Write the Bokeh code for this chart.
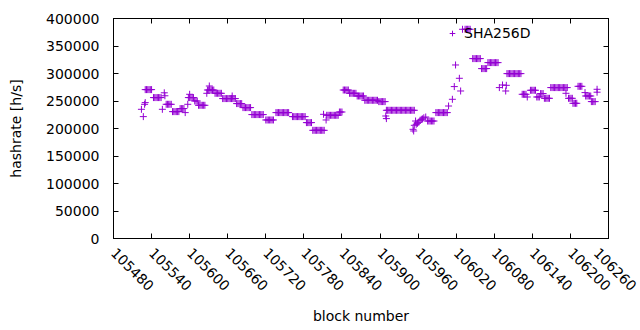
import math
from bokeh.plotting import figure
from bokeh.models import (ColumnDataSource, FixedTicker, LinearAxis, Legend,
                          LegendItem, BasicTickFormatter, Range1d, CustomJSTickFormatter)
from bokeh.embed import file_html
from bokeh.resources import INLINE

# ---- tick labels ----
x_ticks = [105480, 105540, 105600, 105660, 105720, 105780, 105840,
           105900, 105960, 106020, 106080, 106140, 106200, 106260]
y_ticks = [0, 50000, 100000, 150000, 200000, 250000, 300000, 350000, 400000]
series_name = "SHA256D"

# ---- data (block number, hashrate) ----
block = [
    105524, 105527, 105529, 105530,
    105530, 105532, 105534, 105536, 105538, 105540,
    105543, 105545, 105547, 105549, 105551, 105553, 105555,
    105557, 105560, 105561,
    105563, 105565, 105567, 105569, 105571,
    105573, 105575, 105577, 105579, 105581, 105583,
    105585, 105587, 105589, 105591,
    105593, 105597,
    105598, 105600, 105602, 105604, 105606, 105600,
    105608, 105610, 105612,
    105614, 105616, 105618, 105620, 105622, 105624,
    105627, 105631,
    105628, 105630, 105632, 105634, 105636, 105638,
    105640, 105642, 105644, 105646, 105648, 105650,
    105652, 105654, 105656, 105658, 105660, 105662, 105664, 105666, 105668, 105670, 105672, 105667,
    105674, 105676, 105678, 105680, 105682,
    105684, 105686, 105688, 105690, 105692, 105694, 105696,
    105698, 105700, 105702, 105704, 105706, 105708, 105710, 105712, 105714, 105716,
    105720, 105722, 105724, 105726, 105728, 105730, 105732,
    105736, 105738, 105740, 105742, 105744, 105746, 105748, 105750, 105752, 105754, 105756,
    105762, 105764, 105766, 105768, 105770, 105772, 105774, 105776, 105778, 105780, 105782,
    105784, 105786, 105788, 105790, 105792,
    105794, 105796, 105798, 105800, 105802, 105804, 105806, 105808, 105810, 105812,
    105811, 105815,
    105816, 105818, 105820, 105822, 105824, 105826, 105828, 105830, 105832, 105834,
    105836, 105838, 105840,
    105842, 105844, 105846, 105848, 105850,
    105852, 105854, 105856, 105858, 105860, 105862,
    105864, 105866, 105868, 105870, 105872, 105874,
    105876, 105878, 105880, 105882, 105884, 105886, 105888, 105890, 105892, 105894, 105896,
    105898, 105900, 105902, 105904, 105906, 105908,
    105909, 105910,
    105910, 105912, 105914, 105916, 105918, 105920, 105922, 105924, 105926, 105928, 105930, 105932,
    105934, 105936, 105938, 105940, 105942, 105944, 105946, 105948, 105950, 105952, 105954,
    105952, 105953, 105954, 105956,
    105957, 105959, 105961, 105963, 105965, 105967, 105969, 105972,
    105975, 105977, 105979, 105981, 105983, 105985,
    105988, 105990, 105992, 105994, 105996, 105998, 106000, 106002, 106004, 106006,
    106008, 106014, 106017, 106019, 106025, 106027,
    106030, 106034, 106036, 106038, 106040, 106042,
    106046, 106048, 106050, 106052, 106054, 106056, 106058,
    106060, 106062, 106064, 106066, 106068,
    106070, 106072, 106074, 106076, 106078, 106080, 106082, 106084, 106086,
    106088, 106093, 106098, 106099,
    106100, 106102, 106104, 106106, 106108, 106110, 106112, 106114, 106116, 106118, 106120, 106122,
    106124, 106126, 106128, 106130, 106132,
    106137, 106139, 106141, 106143, 106145,
    106147, 106149, 106151,
    106153, 106155, 106157,
    106159, 106161, 106163, 106165, 106167,
    106169, 106171, 106173, 106175, 106177, 106179, 106181, 106183, 106185, 106187, 106189, 106191,
    106193, 106195,
    106193,
    106197, 106199, 106201, 106203,
    106204, 106206, 106208, 106210,
    106212, 106214, 106216, 106218,
    106223,
    106224, 106226, 106228, 106230, 106232,
    106233, 106235, 106237, 106239,
    106242, 106242,
]
hashrate = [
    234900, 221600, 244000, 247100,
    270700, 270700, 270700, 270700, 270700, 270700,
    256200, 256200, 256200, 256200, 256200, 256200, 256200,
    234900, 264900, 259500,
    244000, 244000, 244000, 244000, 244000,
    230700, 230700, 230700, 230700, 230700, 230700,
    236200, 236200, 236200, 236200,
    228900, 244000,
    256200, 256200, 256200, 256200, 256200, 262200,
    250000, 250000, 250000,
    242200, 242200, 242200, 242200, 242200, 242200,
    264000, 277300,
    270000, 270000, 270000, 270000, 270000, 270000,
    264000, 264000, 264000, 264000, 264000, 264000,
    254400, 254400, 254400, 254400, 254400, 254400, 254400, 254400, 254400, 254400, 254400, 259100,
    245300, 245300, 245300, 245300, 245300,
    238000, 238000, 238000, 238000, 238000, 238000, 238000,
    225300, 225300, 225300, 225300, 225300, 225300, 225300, 225300, 225300, 225300,
    215500, 215500, 215500, 215500, 215500, 215500, 215500,
    228900, 228900, 228900, 228900, 228900, 228900, 228900, 228900, 228900, 228900, 228900,
    221600, 221600, 221600, 221600, 221600, 221600, 221600, 221600, 221600, 221600, 221600,
    210700, 210700, 210700, 210700, 210700,
    196700, 196700, 196700, 196700, 196700, 196700, 196700, 196700, 196700, 196700,
    225800, 215500,
    224000, 224000, 224000, 224000, 224000, 224000, 224000, 224000, 224000, 224000,
    230000, 230000, 230000,
    270000, 270000, 270000, 270000, 270000,
    264000, 264000, 264000, 264000, 264000, 264000,
    259100, 259100, 259100, 259100, 259100, 259100,
    251300, 251300, 251300, 251300, 251300, 251300, 251300, 251300, 251300, 251300, 251300,
    248900, 248900, 248900, 248900, 248900, 248900,
    222700, 218000,
    233100, 233100, 233100, 233100, 233100, 233100, 233100, 233100, 233100, 233100, 233100, 233100,
    233100, 233100, 233100, 233100, 233100, 233100, 233100, 233100, 233100, 233100, 233100,
    198500, 195500, 205800, 213600,
    207600, 209500, 211300, 214900, 216700, 217500, 219500, 220900,
    213600, 213600, 213600, 213600, 213600, 213600,
    228900, 228900, 228900, 228900, 228900, 228900, 228900, 228900, 228900, 228900,
    240900, 253100, 276200, 315500, 291300, 268200,
    380400, 380400, 380400, 380400, 380400, 380400,
    327100, 327100, 327100, 327100, 327100, 327100, 327100,
    308900, 308900, 308900, 308900, 308900,
    319800, 319800, 319800, 319800, 319800, 319800, 319800, 319800, 319800,
    274400, 279100, 268200, 278500,
    299800, 299800, 299800, 299800, 299800, 299800, 299800, 299800, 299800, 299800, 299800, 299800,
    262200, 262200, 262200, 262200, 257300,
    269500, 269500, 269500, 269500, 269500,
    257300, 257300, 257300,
    263500, 263500, 263500,
    254900, 254900, 254900, 254900, 254900,
    274400, 274400, 274400, 274400, 274400, 274400, 274400, 274400, 274400, 274400, 274400, 274400,
    274400, 274400,
    264000,
    254900, 254900, 254900, 254900,
    245800, 245800, 245800, 245800,
    276700, 276700, 276700, 276700,
    265300,
    259100, 259100, 259100, 259100, 259100,
    248900, 248900, 248900, 248900,
    271300, 266000,
]

PURPLE = "#9400D3"
FONT = "DejaVu Sans"
FS = "14px"

src = ColumnDataSource(dict(block=block, hashrate=hashrate))

p = figure(frame_width=495, frame_height=220,
           x_range=Range1d(x_ticks[0], x_ticks[-1]),
           y_range=Range1d(y_ticks[0], y_ticks[-1]),
           output_backend="svg", toolbar_location=None,
           min_border_left=113, min_border_right=29,
           min_border_top=18, min_border_bottom=86,
           background_fill_color="white", border_fill_color="white")

r = p.scatter("block", "hashrate", source=src, marker="cross", size=7,
              line_color=PURPLE, line_width=1)

p.grid.visible = False
p.outline_line_color = "black"
p.outline_line_alpha = 1
p.outline_line_width = 1

xa = p.xaxis[0]
xa.ticker = FixedTicker(ticks=x_ticks)
xa.formatter = BasicTickFormatter(use_scientific=False)
xa.major_label_orientation = -math.pi / 4
xa.axis_label = "block number"
xa.major_label_standoff = 12
xa.axis_label_standoff = 10

ya = p.yaxis[0]
ya.ticker = FixedTicker(ticks=y_ticks)
ya.formatter = BasicTickFormatter(use_scientific=False)
ya.axis_label = "hashrate [h/s]"
ya.major_label_standoff = 14
ya.axis_label_standoff = 19

for ax in (xa, ya):
    ax.major_tick_in = 5
    ax.major_tick_out = 0
    ax.minor_tick_line_color = None
    ax.axis_line_color = "black"
    ax.major_tick_line_color = "black"
    ax.major_label_text_font = FONT
    ax.major_label_text_font_size = FS
    ax.major_label_text_color = "black"
    ax.axis_label_text_font = FONT
    ax.axis_label_text_font_size = FS
    ax.axis_label_text_font_style = "normal"
    ax.axis_label_text_color = "black"

blank = CustomJSTickFormatter(code="return '';")
top = LinearAxis(ticker=FixedTicker(ticks=x_ticks), formatter=blank,
                 major_tick_in=5, major_tick_out=0, minor_tick_line_color=None,
                 major_label_standoff=0, major_label_text_font_size="1px")
right = LinearAxis(ticker=FixedTicker(ticks=y_ticks), formatter=blank,
                   major_tick_in=5, major_tick_out=0, minor_tick_line_color=None,
                   major_label_standoff=0, major_label_text_font_size="1px")
p.add_layout(top, "above")
p.add_layout(right, "right")

legend = Legend(items=[LegendItem(label=series_name, renderers=[r])],
                location=(332, 197), padding=0, margin=0, spacing=0,
                label_standoff=5, glyph_width=14, glyph_height=14,
                border_line_color=None, background_fill_alpha=0,
                label_text_font=FONT, label_text_font_size=FS,
                label_text_color="black")
p.add_layout(legend)

open("out.html", "w").write(file_html(p, INLINE))
